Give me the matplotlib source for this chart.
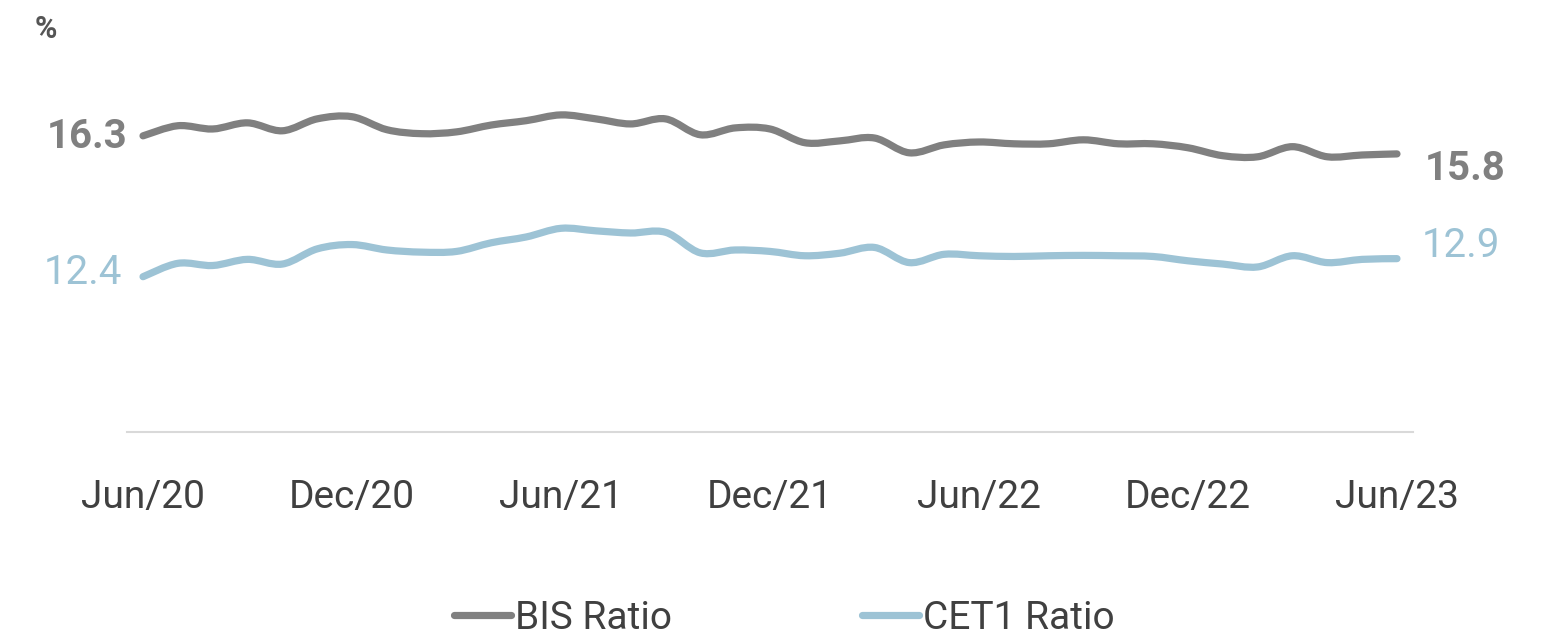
import matplotlib
matplotlib.use("Agg")
import matplotlib.pyplot as plt
from matplotlib.path import Path
from matplotlib.patches import PathPatch
from matplotlib.lines import Line2D

# ---------------- data ----------------
tick_labels = ["Jun/20", "Dec/20", "Jun/21", "Dec/21", "Jun/22", "Dec/22", "Jun/23"]
tick_months = [0, 6, 12, 18, 24, 30, 36]
months = list(range(37))  # Jun/20 .. Jun/23 monthly

bis_ratio = [16.30, 16.58, 16.49, 16.66, 16.44, 16.77, 16.83, 16.47, 16.36, 16.41,
             16.60, 16.72, 16.88, 16.77, 16.63, 16.77, 16.33, 16.52, 16.49, 16.11,
             16.16, 16.24, 15.83, 16.05, 16.13, 16.08, 16.08, 16.19, 16.08, 16.08,
             15.97, 15.75, 15.72, 16.00, 15.72, 15.77, 15.80]
cet1_ratio = [12.40, 12.77, 12.71, 12.88, 12.75, 13.17, 13.29, 13.14, 13.08, 13.10,
              13.34, 13.50, 13.74, 13.67, 13.61, 13.63, 13.06, 13.14, 13.10, 12.98,
              13.05, 13.21, 12.79, 13.02, 12.98, 12.96, 12.98, 12.99, 12.98, 12.96,
              12.84, 12.75, 12.67, 12.98, 12.79, 12.88, 12.90]
series_names = ["BIS Ratio", "CET1 Ratio"]

# ---------------- style ----------------
BIS_C = "#808080"
CET_C = "#9dc3d5"
TXT_C = "#404040"

plt.rcParams["font.family"] = ["Roboto", "DejaVu Sans"]

fig = plt.figure(figsize=(15.47, 6.37), dpi=100)
ax = fig.add_axes([127 / 1547, 1 - 432 / 637, (1413 - 127) / 1547, (432 - 60) / 637])


def smooth_path(xs, ys):
    verts = [(xs[0], ys[0])]
    codes = [Path.MOVETO]
    n = len(xs)
    for i in range(n - 1):
        x0, y0 = xs[max(i - 1, 0)], ys[max(i - 1, 0)]
        x1, y1 = xs[i], ys[i]
        x2, y2 = xs[i + 1], ys[i + 1]
        x3, y3 = xs[min(i + 2, n - 1)], ys[min(i + 2, n - 1)]
        c1 = (x1 + (x2 - x0) / 6.0, y1 + (y2 - y0) / 6.0)
        c2 = (x2 - (x3 - x1) / 6.0, y2 - (y3 - y1) / 6.0)
        verts += [c1, c2, (x2, y2)]
        codes += [Path.CURVE4] * 3
    return Path(verts, codes)


for vals, col in [(bis_ratio, BIS_C), (cet1_ratio, CET_C)]:
    patch = PathPatch(smooth_path(months, vals), facecolor="none", edgecolor=col,
                      lw=5.2, capstyle="round", joinstyle="round")
    ax.add_patch(patch)

ax.set_xlim(-0.46, 36.46)
ax.set_ylim(8.10, 18.40)

for s in ["top", "right", "left"]:
    ax.spines[s].set_visible(False)
ax.spines["bottom"].set_color("#d9d9d9")
ax.spines["bottom"].set_linewidth(1.5)
ax.set_yticks([])
ax.set_xticks(tick_months)
ax.set_xticklabels(tick_labels, fontsize=28, color=TXT_C)
ax.tick_params(axis="x", length=0, pad=34)

# end labels
ax.annotate(f"{bis_ratio[0]:.1f}", (months[0], bis_ratio[0]), xytext=(-16, -1),
            textcoords="offset pixels", ha="right", va="center", fontsize=29,
            fontweight="bold", color=BIS_C, annotation_clip=False)
ax.annotate(f"{cet1_ratio[0]:.1f}", (months[0], cet1_ratio[0]), xytext=(-21, 4),
            textcoords="offset pixels", ha="right", va="center", fontsize=29,
            color=CET_C, annotation_clip=False)
ax.annotate(f"{bis_ratio[-1]:.1f}", (months[-1], bis_ratio[-1]), xytext=(28, -15),
            textcoords="offset pixels", ha="left", va="center", fontsize=29,
            fontweight="bold", color=BIS_C, annotation_clip=False)
ax.annotate(f"{cet1_ratio[-1]:.1f}", (months[-1], cet1_ratio[-1]), xytext=(25, 13),
            textcoords="offset pixels", ha="left", va="center", fontsize=29,
            color=CET_C, annotation_clip=False)

fig.text(35 / 1547, 1 - 29 / 637, "%", fontsize=22, fontweight="bold",
         color="#555555", ha="left", va="center")

handles = [Line2D([0], [0], color=BIS_C, lw=5.2, solid_capstyle="round"),
           Line2D([0], [0], color=CET_C, lw=5.2, solid_capstyle="round")]
fig.legend(handles, series_names, loc="lower center", ncol=2,
           bbox_to_anchor=(0.507, -0.030), frameon=False, fontsize=28,
           handlelength=1.45, handletextpad=0.1, columnspacing=4.9,
           labelcolor=TXT_C, borderpad=0)

fig.savefig("out.png", dpi=100)
